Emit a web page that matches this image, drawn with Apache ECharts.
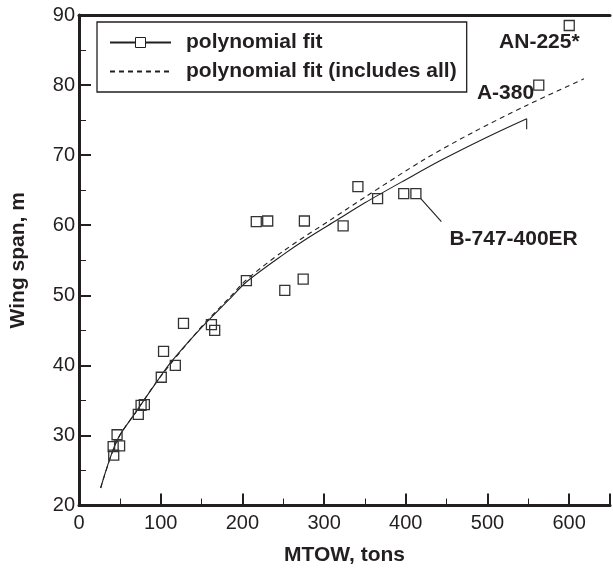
<!DOCTYPE html>
<html>
<head>
<meta charset="utf-8">
<script src="https://cdn.jsdelivr.net/npm/echarts@6/dist/echarts.min.js"></script>
<style>
  html, body { margin: 0; padding: 0; background: #fff; }
  #chart { width: 613px; height: 573px; }
</style>
</head>
<body>
<div id="chart"></div>
<script>
// Aircraft wing span versus maximum take-off weight
const mtowTons = [42.5, 41.8, 49.7, 46.6, 72.6, 76, 80, 100.7, 103.5, 117.9, 127.9, 162.1, 166.1,
                  204.9, 217, 231, 251.9, 274.4, 275.9, 323.3, 341.4, 365.5, 397.5, 412.4, 562.8, 600.1];
const wingSpanM = [27.2, 28.4, 28.5, 30.1, 33.0, 34.3, 34.4, 38.3, 42.0, 40.0, 46.0, 45.8, 45.0,
                   52.1, 60.5, 60.6, 50.7, 52.3, 60.6, 59.9, 65.5, 63.8, 64.5, 64.5, 80.0, 88.5];
const aircraftNames = { 24: 'A-380', 25: 'AN-225*' };
const leaderLabel = 'B-747-400ER';

// Fitted curve without the two largest aircraft
const fitX = [26.5, 46.6, 70, 96.6, 112.8, 146.8, 182.9, 204.9, 250, 279.2, 315.3, 350, 400, 443.6, 500, 548];
const fitY = [22.5, 29.3, 33.4, 37.9, 40.5, 45.0, 49.3, 51.9, 55.8, 58.1, 60.7, 63.2, 66.5, 69.3, 72.6, 75.2];
const fitEndTickY = [75.2, 73.7];

// Fitted curve over all aircraft
const fitAllX = [26.5, 46.6, 70, 96.6, 146.8, 182.9, 204.9, 250, 307, 350, 421.5, 483, 548, 618];
const fitAllY = [22.5, 29.3, 33.4, 37.9, 45.1, 49.5, 52.2, 56.3, 60.7, 64.0, 69.3, 73.3, 77.1, 80.9];

// Leader from the B-747-400ER marker to its label
const leaderX = [418.4, 443.6];
const leaderY = [63.8, 60.5];

const xTicks = [0, 100, 200, 300, 400, 500, 600];
const yTicks = [20, 30, 40, 50, 60, 70, 80, 90];

const FONT = '"Liberation Sans", Arial, Helvetica, sans-serif';
const INK = '#231f20';

const zip = (a, b) => a.map((v, i) => [v, b[i]]);

const annotationText = { fontFamily: FONT, fontSize: 21, fontWeight: 'bold', color: INK };
const labelOffsets = {
  'A-380': [6, 8],
  'AN-225*': [21, 17]
};

const scatterData = mtowTons.map((x, i) => {
  const name = aircraftNames[i];
  const item = { value: [x, wingSpanM[i]] };
  if (name) {
    item.name = name;
    item.label = Object.assign({
      show: true, position: 'left', distance: 5,
      offset: labelOffsets[name],
      formatter: name
    }, annotationText);
  }
  return item;
});

const chart = echarts.init(document.getElementById('chart'), null, { renderer: 'canvas' });

// Ticks point into the plot area
function axisBase() {
  return {
    type: 'value',
    axisLine: { show: true, lineStyle: { color: INK, width: 3 } },
    axisTick: { show: true, inside: true, length: 12, lineStyle: { color: INK, width: 2 } },
    minorTick: { show: true, splitNumber: 2, length: 7, lineStyle: { color: INK, width: 1 } },
    splitLine: { show: false },
    minorSplitLine: { show: false },
    nameTextStyle: { fontFamily: FONT, fontSize: 21, fontWeight: 'bold', color: INK }
  };
}

chart.setOption({
  animation: false,
  backgroundColor: '#fff',
  grid: { left: 78, top: 15, width: 540.2, height: 490.5, containLabel: false },
  xAxis: [
    Object.assign(axisBase(), {
      min: 0, max: 650, interval: 100,
      name: 'MTOW, tons', nameLocation: 'middle', nameGap: 39,
      axisLabel: {
        fontFamily: FONT, fontSize: 20, color: INK, margin: 8,
        formatter: v => (xTicks.indexOf(v) >= 0 ? String(v) : '')
      }
    }),
    {
      type: 'value', position: 'top', min: 0, max: 650,
      axisLine: { show: true, lineStyle: { color: INK, width: 3 } },
      axisTick: { show: false }, axisLabel: { show: false }, splitLine: { show: false }
    }
  ],
  yAxis: Object.assign(axisBase(), {
    min: 20, max: 90, interval: 10,
    name: 'Wing span, m', nameLocation: 'middle', nameGap: 50,
    axisLabel: {
      fontFamily: FONT, fontSize: 20, color: INK, margin: 4,
      formatter: v => (yTicks.indexOf(v) >= 0 ? String(v) : '')
    }
  }),
  legend: {
    left: 97, top: 22,
    orient: 'vertical',
    itemWidth: 61, itemHeight: 12.5, itemGap: 8,
    padding: [10, 10, 10, 12],
    borderColor: INK, borderWidth: 1.3, backgroundColor: '#fff',
    textStyle: { fontFamily: FONT, fontSize: 21, fontWeight: 'bold', color: INK, padding: [0, 0, 0, 10] },
    selectedMode: false,
    data: [
      { name: 'polynomial fit', itemStyle: { color: '#fff', borderColor: INK, borderWidth: 1 } },
      { name: 'polynomial fit (includes all)', itemStyle: { opacity: 0 } }
    ]
  },
  series: [
    {
      name: 'aircraft', type: 'scatter', z: 5,
      symbol: 'rect', symbolSize: 10,
      itemStyle: { color: 'rgba(255,255,255,0)', borderColor: '#333', borderWidth: 1.3, opacity: 1 },
      label: annotationText,
      emphasis: { disabled: true },
      data: scatterData
    },
    {
      name: 'polynomial fit', type: 'line', smooth: 0.3,
      symbol: 'rect', symbolSize: 10, showSymbol: false,
      itemStyle: { color: '#fff', borderColor: INK, borderWidth: 1 },
      lineStyle: { color: INK, width: 1.1 },
      data: zip(fitX, fitY)
    },
    {
      name: 'fit end', type: 'line', symbol: 'none',
      lineStyle: { color: INK, width: 1.1 },
      data: zip([548, 548], fitEndTickY)
    },
    {
      name: 'polynomial fit (includes all)', type: 'line', smooth: 0.3,
      symbol: 'none',
      lineStyle: { color: INK, width: 1.1, type: [5, 4] },
      data: zip(fitAllX, fitAllY)
    },
    {
      name: 'B-747 leader', type: 'line', symbol: 'none',
      lineStyle: { color: INK, width: 1.1 },
      data: zip(leaderX, leaderY),
      endLabel: Object.assign({
        show: true, formatter: leaderLabel,
        distance: 0, offset: [8, 17]
      }, annotationText)
    }
  ]
});
</script>
</body>
</html>
